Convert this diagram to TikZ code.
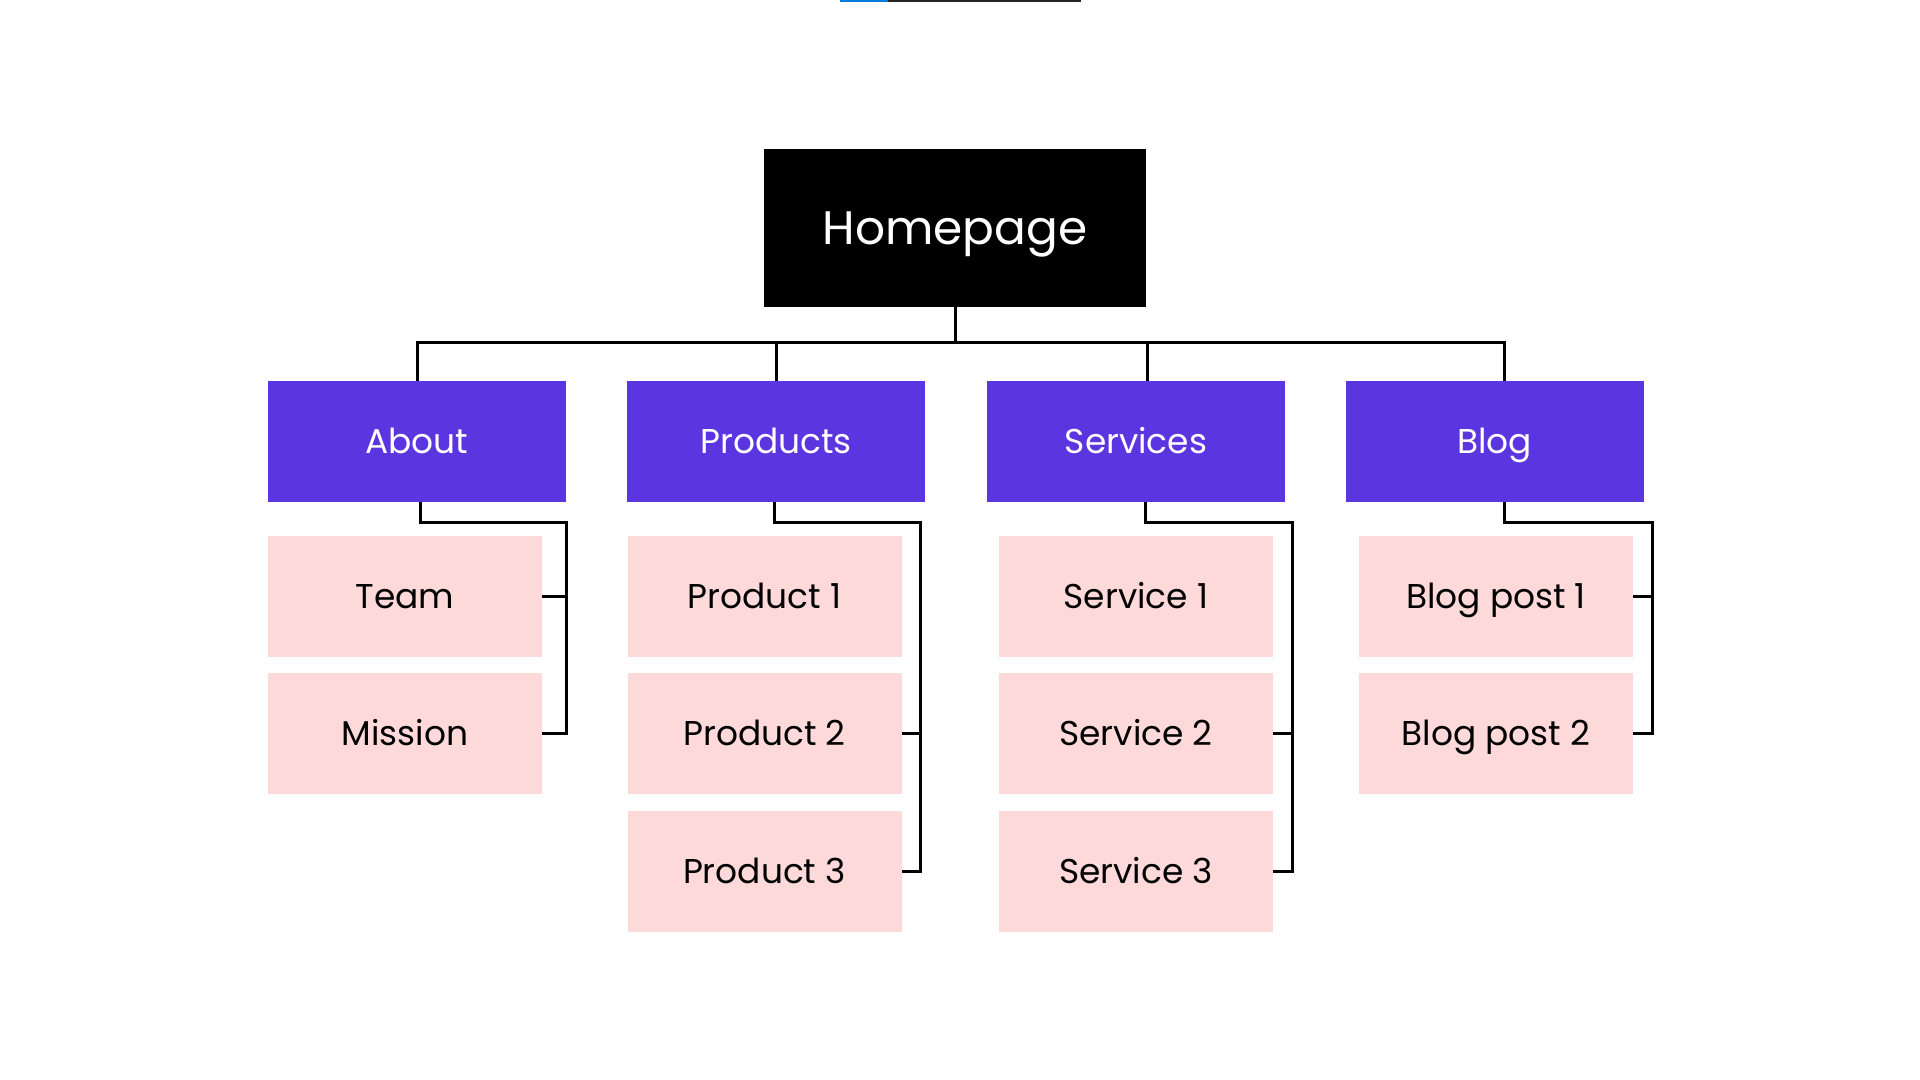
\documentclass[tikz,border=0pt]{standalone}
\usepackage{fontspec}
\setmainfont{Poppins}
\definecolor{navpurple}{RGB}{91,54,224}
\definecolor{pagepink}{RGB}{253,217,217}
\definecolor{barblue}{RGB}{0,122,217}
\tikzset{
  homebox/.style={fill=black, text=white, minimum width=191pt, minimum height=79pt, inner sep=0pt, text height=16.4pt, text depth=0pt, font=\fontsize{23.5}{28}\selectfont},
  navbox/.style={fill=navpurple, text=white, minimum width=149pt, minimum height=60.5pt, inner sep=0pt, text height=12pt, text depth=0pt, font=\fontsize{17.2}{21}\selectfont},
  pagebox/.style={fill=pagepink, text=black, minimum width=137pt, minimum height=60.5pt, inner sep=0pt, text height=12pt, text depth=0pt, font=\fontsize{17.2}{21}\selectfont},
  link/.style={draw=black, line width=1.5pt}
}
\begin{document}
\begin{tikzpicture}[x=0.5pt, y=-0.5pt]
        \useasboundingbox (0,0) rectangle (1920,1080);
        % progress bar at the top edge
        \fill[barblue] (840,0) rectangle (888,2);
        \fill[black!85] (888,0) rectangle (1081,2);
        % top level
        \node[homebox] (home) at (955,228) {Homepage};
        \node[navbox] (about) at (417,441.5) {About};
        \node[navbox] (products) at (776,441.5) {Products};
        \node[navbox] (services) at (1136,441.5) {Services};
        \node[navbox] (blog) at (1494.5,441.5) {Blog};
        % pages
        \node[pagebox] (team) at (405,596.5) {Team};
        \node[pagebox] (mission) at (405,733.5) {Mission};
        \node[pagebox] (prod1) at (764.5,596.5) {Product 1};
        \node[pagebox] (prod2) at (764.5,733.5) {Product 2};
        \node[pagebox] (prod3) at (764.5,871) {Product 3};
        \node[pagebox] (serv1) at (1136,596.5) {Service 1};
        \node[pagebox] (serv2) at (1136,733.5) {Service 2};
        \node[pagebox] (serv3) at (1136,871) {Service 3};
        \node[pagebox] (post1) at (1496,596.5) {Blog post 1};
        \node[pagebox] (post2) at (1496,733.5) {Blog post 2};
        % homepage to sections
        \draw[link] (home.south) -- ++(0,35) -| (about.north);
        \draw[link] (home.south) -- ++(0,35) -| (products.north);
        \draw[link] (home.south) -- ++(0,35) -| ([shift={(11,0)}]services.north);
        \draw[link] (home.south) -- ++(0,35) -| ([shift={(9.5,0)}]blog.north);
        % sections to pages
        \draw[link] ([shift={(3,0)}]about.south) -- ++(0,20) -| ([shift={(24,0)}]mission.east) -- (mission.east);
        \draw[link] (team.east) -- ++(24,0);
        \draw[link] ([shift={(-2,0)}]products.south) -- ++(0,20) -| ([shift={(19,0)}]prod3.east) -- (prod3.east);
        \draw[link] (prod2.east) -- ++(19,0);
        \draw[link] ([shift={(9,0)}]services.south) -- ++(0,20) -| ([shift={(19,0)}]serv3.east) -- (serv3.east);
        \draw[link] (serv2.east) -- ++(19,0);
        \draw[link] ([shift={(9.5,0)}]blog.south) -- ++(0,20) -| ([shift={(19,0)}]post2.east) -- (post2.east);
        \draw[link] (post1.east) -- ++(19,0);
\end{tikzpicture}
\end{document}
